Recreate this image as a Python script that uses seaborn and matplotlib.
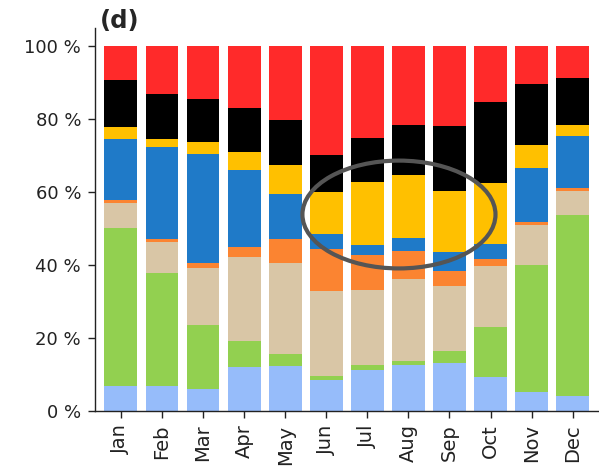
import matplotlib
matplotlib.use("Agg")
import matplotlib.pyplot as plt
import seaborn as sns
import numpy as np
import pandas as pd
from matplotlib.patches import Ellipse

months = ["Jan", "Feb", "Mar", "Apr", "May", "Jun", "Jul", "Aug", "Sep", "Oct", "Nov", "Dec"]

# stacked shares (%) bottom -> top
light_blue = [6.6, 6.6, 6.0, 11.9, 12.1, 8.5, 11.2, 12.4, 13.0, 9.2, 5.0, 4.1]
green      = [43.6, 31.1, 17.4, 7.1, 3.5, 1.1, 1.2, 1.3, 3.3, 13.7, 35.0, 49.5]
tan        = [6.8, 8.5, 15.7, 23.1, 24.9, 23.1, 20.8, 22.5, 18.0, 16.9, 10.8, 6.7]
orange     = [0.7, 0.8, 1.4, 2.8, 6.7, 11.5, 9.4, 7.6, 4.1, 1.7, 0.9, 0.9]
blue       = [16.9, 25.4, 30.0, 21.2, 12.3, 4.3, 2.7, 3.5, 5.0, 4.3, 15.0, 14.2]
yellow     = [3.2, 2.2, 3.1, 4.9, 8.0, 11.5, 17.4, 17.3, 16.8, 16.7, 6.3, 3.1]
black      = [13.0, 12.4, 12.0, 12.0, 12.3, 10.1, 12.1, 13.7, 17.8, 22.2, 16.6, 12.9]
red        = [9.2, 13.0, 14.4, 17.0, 20.2, 29.9, 25.2, 21.7, 22.0, 15.3, 10.4, 8.6]

yticks = [0, 20, 40, 60, 80, 100]
ytick_labels = ["0 %", "20 %", "40 %", "60 %", "80 %", "100 %"]

layers = [light_blue, green, tan, orange, blue, yellow, black, red]
colors = ["#96bcfa", "#92d050", "#d9c6a6", "#fb8431", "#1f7ac8", "#ffc000", "#000000", "#ff2a2a"]

sns.set_style("ticks")
plt.rcParams['font.family'] = ['DejaVu Sans']

fig = plt.figure(figsize=(5.99, 4.72), dpi=100)
ax = fig.add_axes([95/599, 61.5/472, 504/599, 382.5/472])

bottom = np.zeros(len(months))
for vals, col in zip(layers, colors):
    df = pd.DataFrame({"month": months, "share": vals})
    sns.barplot(data=df, x="month", y="share", color=col, bottom=bottom,
                width=0.8, linewidth=0, ax=ax, saturation=1, errorbar=None)
    bottom = bottom + np.array(vals)

ax.add_patch(Ellipse((6.77, 53.8), 4.7, 29.6, fill=False, edgecolor="#555555",
                     linewidth=3.0, zorder=5, clip_on=False))

ax.set_xlim(-0.63, 11.64)
ax.set_ylim(0, 105)
ax.set_yticks(yticks)
ax.set_yticklabels(ytick_labels, fontsize=13, color="#222222")
ax.set_xticks(range(len(months)))
ax.set_xticklabels(months, rotation=90, fontsize=14, color="#222222")
ax.set_xlabel("")
ax.set_ylabel("")
sns.despine(ax=ax)
for s in ["left", "bottom"]:
    ax.spines[s].set_linewidth(1.0)
    ax.spines[s].set_color("#222222")
ax.tick_params(axis="both", length=5, width=1.0, pad=5, color="#222222")

fig.text(100/599, 1 - 28/472, "(d)", fontsize=17.5, fontweight="bold", ha="left", va="baseline")

fig.savefig("out.png", dpi=100)
